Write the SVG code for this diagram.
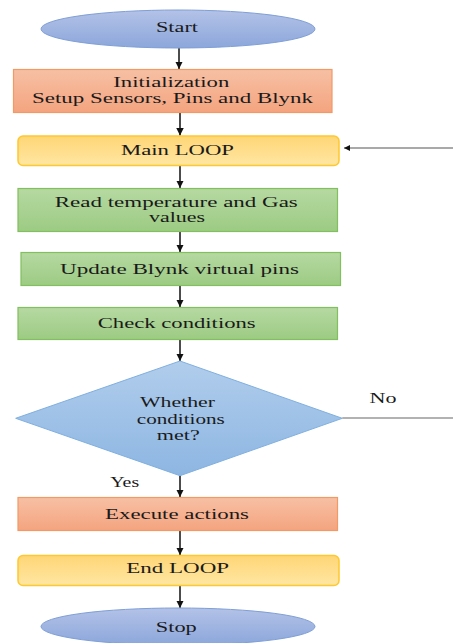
<svg xmlns="http://www.w3.org/2000/svg" width="453" height="643" viewBox="0 0 453 643">
<style>
  text { font-family: 'Liberation Serif', 'Times New Roman', Times, serif; font-size: 15px; fill: #1a1a1a; text-anchor: middle; }
  .blue { fill: url(#gBlue); stroke: #7f9fd6; stroke-width: 1; }
  .orange { fill: url(#gOrange); stroke: #f29a66; stroke-width: 1.2; }
  .yellow { fill: url(#gYellow); stroke: #ffc82e; stroke-width: 1.5; }
  .green { fill: url(#gGreen); stroke: #82bf5e; stroke-width: 1.2; }
  .dia { fill: url(#gDia); stroke: #7fb0e0; stroke-width: 1; }
  .arr { stroke: #111; stroke-width: 1.5; fill: none; marker-end: url(#ah); }
  .thin { stroke: #666; stroke-width: 1.2; fill: none; }
</style>
<defs>
  <linearGradient id="gBlue" x1="0" y1="0" x2="0" y2="1"><stop offset="0" stop-color="#b3c2e7"/><stop offset="1" stop-color="#8ca7db"/></linearGradient>
  <linearGradient id="gOrange" x1="0" y1="0" x2="0" y2="1"><stop offset="0" stop-color="#f7c0a4"/><stop offset="1" stop-color="#f4a47f"/></linearGradient>
  <linearGradient id="gYellow" x1="0" y1="0" x2="0" y2="1"><stop offset="0" stop-color="#ffd676"/><stop offset="1" stop-color="#ffe6a2"/></linearGradient>
  <linearGradient id="gGreen" x1="0" y1="0" x2="0" y2="1"><stop offset="0" stop-color="#b6d9a2"/><stop offset="1" stop-color="#9ccb83"/></linearGradient>
  <linearGradient id="gDia" x1="0" y1="0" x2="0" y2="1"><stop offset="0" stop-color="#b1cdec"/><stop offset="1" stop-color="#8db6e2"/></linearGradient>
  <marker id="ah" viewBox="0 0 10 10" refX="10" refY="5" markerWidth="5" markerHeight="5" orient="auto" markerUnits="strokeWidth">
    <path d="M0,0 L10,5 L0,10 z" fill="#111"/>
  </marker>
</defs>

<g id="connectors">
  <line class="arr" x1="179" y1="48" x2="179" y2="69"/>
  <line class="arr" x1="180" y1="113" x2="180" y2="135.5"/>
  <line class="arr" x1="180" y1="166" x2="180" y2="188"/>
  <line class="arr" x1="180" y1="232" x2="180" y2="252"/>
  <line class="arr" x1="180" y1="286" x2="180" y2="307"/>
  <line class="arr" x1="180" y1="340" x2="180" y2="361"/>
  <line class="arr" x1="180" y1="476" x2="180" y2="497"/>
  <line class="arr" x1="180" y1="530.5" x2="180" y2="555"/>
  <line class="arr" x1="180" y1="586" x2="180" y2="608"/>
  <line class="thin" x1="342.3" y1="418" x2="453" y2="418"/>
  <line class="thin" x1="453" y1="148" x2="344" y2="148" style="marker-end:url(#ah);stroke:#555"/>
  <text x="383" y="403" textLength="27" lengthAdjust="spacingAndGlyphs">No</text>
  <text x="124.7" y="486.5" textLength="29" lengthAdjust="spacingAndGlyphs">Yes</text>
</g>

<g id="start">
  <ellipse class="blue" cx="178" cy="29" rx="137" ry="19"/>
  <text x="177" y="32" textLength="42" lengthAdjust="spacingAndGlyphs">Start</text>
</g>

<g id="init">
  <rect class="orange" x="13.5" y="69.5" width="318.5" height="43"/>
  <text x="171.3" y="87" textLength="116" lengthAdjust="spacingAndGlyphs">Initialization</text>
  <text x="172.5" y="103" textLength="281" lengthAdjust="spacingAndGlyphs">Setup Sensors, Pins and Blynk</text>
</g>

<g id="mainloop">
  <rect class="yellow" x="18" y="136" width="321" height="29.5" rx="5" ry="5"/>
  <text x="177.5" y="154.5" textLength="113" lengthAdjust="spacingAndGlyphs">Main LOOP</text>
</g>

<g id="read">
  <rect class="green" x="18" y="188.5" width="319.5" height="43"/>
  <text x="176.3" y="207" textLength="243" lengthAdjust="spacingAndGlyphs">Read temperature and Gas</text>
  <text x="177" y="221.5" textLength="56" lengthAdjust="spacingAndGlyphs">values</text>
</g>

<g id="update">
  <rect class="green" x="21" y="252.5" width="319.5" height="33"/>
  <text x="179.5" y="274" textLength="239" lengthAdjust="spacingAndGlyphs">Update Blynk virtual pins</text>
</g>

<g id="check">
  <rect class="green" x="18" y="307.5" width="319.5" height="32"/>
  <text x="176.7" y="328" textLength="158" lengthAdjust="spacingAndGlyphs">Check conditions</text>
</g>

<g id="decision">
  <polygon class="dia" points="180,361 342.3,418.3 180,475.7 15.7,418.3"/>
  <text x="177.5" y="407" textLength="75" lengthAdjust="spacingAndGlyphs">Whether</text>
  <text x="180.8" y="423.5" textLength="88" lengthAdjust="spacingAndGlyphs">conditions</text>
  <text x="178.3" y="439.5" textLength="43" lengthAdjust="spacingAndGlyphs">met?</text>
</g>

<g id="execute">
  <rect class="orange" x="18" y="497.5" width="319.5" height="33"/>
  <text x="177" y="519" textLength="144" lengthAdjust="spacingAndGlyphs">Execute actions</text>
</g>

<g id="endloop">
  <rect class="yellow" x="18" y="555.5" width="321" height="30" rx="5" ry="5"/>
  <text x="177.7" y="573" textLength="103" lengthAdjust="spacingAndGlyphs">End LOOP</text>
</g>

<g id="stop">
  <ellipse class="blue" cx="178" cy="626.5" rx="137" ry="18.5"/>
  <text x="176.3" y="631.5" textLength="41" lengthAdjust="spacingAndGlyphs">Stop</text>
</g>
</svg>
